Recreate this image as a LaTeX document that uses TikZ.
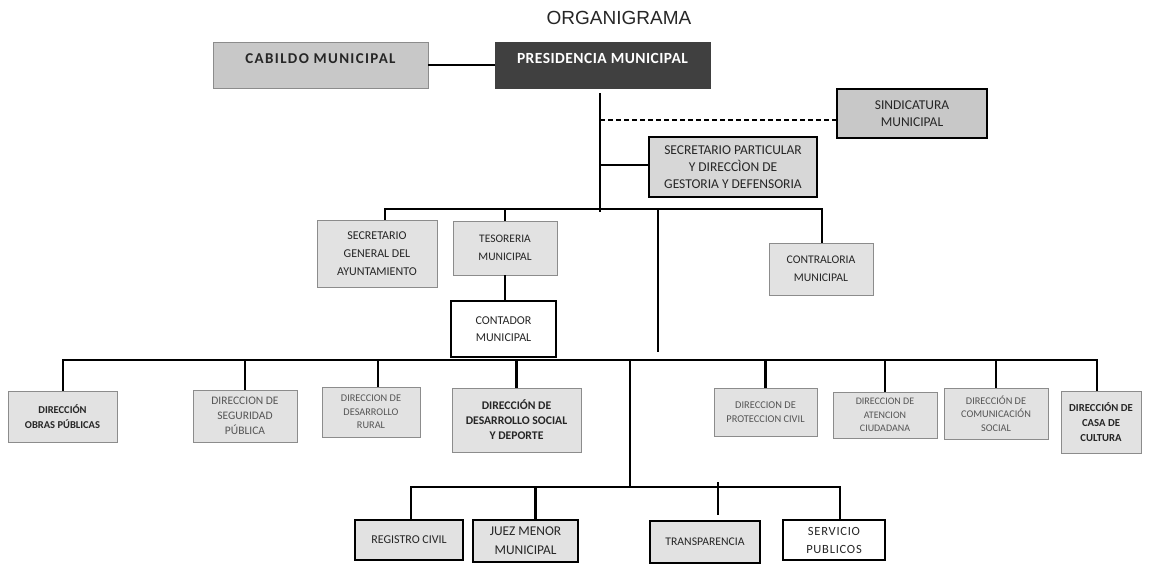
\documentclass[tikz,border=0pt]{standalone}
\usepackage{fontspec}
\setmainfont{Carlito}
\newfontfamily\titlefont{Liberation Sans}
\usetikzlibrary{positioning,calc}
\definecolor{boxgray}{HTML}{E2E2E2}
\definecolor{midgray}{HTML}{C8C8C8}
\definecolor{darkbox}{HTML}{404040}
\definecolor{edgegray}{HTML}{8C8C8C}
\definecolor{txtdark}{HTML}{262626}
\definecolor{txtgray}{HTML}{555555}

\begin{document}
\begin{tikzpicture}[x=1pt, y=-1pt,
  box/.style={draw=edgegray, fill=boxgray, line width=0.9pt, align=center, inner sep=2pt, text=txtdark},
  softbox/.style={box, text=txtgray},
  strongbox/.style={draw=black, fill=boxgray, line width=2.2pt, align=center, inner sep=2pt, text=txtdark},
  topbox/.style={align=center, inner xsep=2pt, inner ysep=3pt, text height=18pt, text depth=22pt},
  trunk/.style={line width=2.6pt},
  link/.style={line width=2pt},
  dashlink/.style={line width=2pt, dash pattern=on 5pt off 3pt}]
  \useasboundingbox (0,0) rectangle (1162,566);

  % title
  \node[font=\titlefont\fontsize{19}{22}\selectfont, text=txtdark] (title) at (619,18) {ORGANIGRAMA};

  % top level
  \node[topbox, draw=edgegray, fill=midgray, line width=0.9pt, minimum width=215pt, text=txtdark,
        font=\bfseries\fontsize{15}{16}\selectfont\addfontfeature{LetterSpace=9}] (cabildo) at (320.5,65) {CABILDO MUNICIPAL};
  \node[topbox, draw=darkbox, fill=darkbox, minimum width=215pt, text=white,
        font=\bfseries\fontsize{15.5}{16}\selectfont\addfontfeature{LetterSpace=3}] (presid) at (602.5,65) {PRESIDENCIA MUNICIPAL};
  \node[strongbox, fill=midgray, minimum width=150pt, minimum height=49pt,
        font=\fontsize{13.5}{17}\selectfont] (sindic) at (912,113.5) {SINDICATURA\\MUNICIPAL};
  \node[strongbox, fill=boxgray!95!black, minimum width=168pt, minimum height=60pt,
        font=\fontsize{13.5}{17}\selectfont] (secpart) at (733,167) {SECRETARIO PARTICULAR\\Y DIRECCÌON DE\\GESTORIA Y DEFENSORIA};

  % second level
  \node[box, minimum width=120pt, minimum height=67pt, font=\fontsize{12}{18}\selectfont] (secgen) at (377,253.5) {SECRETARIO\\GENERAL DEL\\AYUNTAMIENTO};
  \node[box, minimum width=104pt, minimum height=54pt, font=\fontsize{11.5}{18}\selectfont] (tesor) at (505,248) {TESORERIA\\MUNICIPAL};
  \node[strongbox, fill=white, minimum width=105pt, minimum height=56pt, font=\fontsize{12}{17}\selectfont] (contador) at (503.5,329) {CONTADOR\\MUNICIPAL};
  \node[box, minimum width=104pt, minimum height=52pt, font=\fontsize{11.7}{18}\selectfont] (contral) at (821,269) {CONTRALORIA\\MUNICIPAL};

  % directions
  \node[box, minimum width=109pt, minimum height=51pt, font=\bfseries\fontsize{10.5}{15}\selectfont] (obras) at (62.5,416.5) {DIRECCIÓN\\OBRAS PÚBLICAS};
  \node[softbox, minimum width=104pt, minimum height=52pt, font=\fontsize{11.5}{15}\selectfont] (segur) at (245,416) {DIRECCION DE\\SEGURIDAD\\PÚBLICA};
  \node[softbox, minimum width=98pt, minimum height=50pt, font=\fontsize{10.3}{13.5}\selectfont] (rural) at (371,412) {DIRECCION DE\\DESARROLLO\\RURAL};
  \node[box, minimum width=129pt, minimum height=64pt, font=\bfseries\fontsize{11.7}{15}\selectfont] (social) at (516.5,420) {DIRECCIÓN DE\\DESARROLLO SOCIAL\\Y DEPORTE};
  \node[softbox, minimum width=103pt, minimum height=48pt, font=\fontsize{10.4}{13.5}\selectfont] (protec) at (765.5,412) {DIRECCION DE\\PROTECCION CIVIL};
  \node[softbox, minimum width=104pt, minimum height=46pt, font=\fontsize{10}{13.5}\selectfont] (atenc) at (885,415) {DIRECCION DE\\ATENCION\\CIUDADANA};
  \node[softbox, minimum width=104pt, minimum height=51pt, font=\fontsize{10.3}{13.5}\selectfont] (comun) at (996,413.5) {DIRECCIÓN DE\\COMUNICACIÓN\\SOCIAL};
  \node[box, minimum width=80pt, minimum height=62pt, font=\bfseries\fontsize{10.7}{15}\selectfont] (cultura) at (1101,422) {DIRECCIÓN DE\\CASA DE\\CULTURA};

  % bottom level
  \node[strongbox, minimum width=108pt, minimum height=40pt, font=\fontsize{12}{15}\selectfont] (registro) at (409,540) {REGISTRO CIVIL};
  \node[strongbox, minimum width=105pt, minimum height=42pt, font=\fontsize{13.4}{19}\selectfont] (juez) at (525.5,541) {JUEZ MENOR\\MUNICIPAL};
  \node[strongbox, minimum width=110pt, minimum height=42pt, font=\fontsize{11.7}{15}\selectfont] (transp) at (705,542) {TRANSPARENCIA};
  \node[draw=black, fill=white, line width=1.2pt, align=center, text=txtdark, minimum width=102pt, minimum height=40pt,
        font=\fontsize{12.5}{18}\selectfont\addfontfeature{LetterSpace=6}] (servic) at (834,540) {SERVICIO\\PUBLICOS};

  % junction points
  \coordinate (t1) at (600,93);
  \coordinate (t2) at (600,212);
  \coordinate (d1) at (600,120);
  \coordinate (d2) at (600,165);
  \coordinate (b1l) at (385,209);
  \coordinate (b1r) at (822,209);
  \coordinate (t3) at (658,209);
  \coordinate (t4) at (658,352);
  \coordinate (b2l) at (63,360);
  \coordinate (b2r) at (1097,360);
  \coordinate (t5) at (630,360);
  \coordinate (t6) at (630,487);
  \coordinate (b3l) at (411,487);
  \coordinate (b3r) at (840,487);

  % connectors
  \draw[link] (cabildo) -- (presid);
  \draw[trunk] (t1) -- (t2);
  \draw[dashlink] (d1) -- (d1 -| sindic.west);
  \draw[link] (d2) -- (d2 -| secpart.west);
  \draw[trunk] (b1l |- secgen.north) -- (b1l) -- (b1r) -- (b1r |- contral.north);
  \draw[trunk] (tesor.north) -- (tesor.north |- b1l);
  \draw[trunk] (tesor.south) -- (tesor.south |- contador.north);
  \draw[trunk] (t3) -- (t4);
  \draw[trunk] (b2l |- obras.north) -- (b2l) -- (b2r) -- (b2r |- cultura.north);
  \foreach \n in {segur, social, protec, atenc, comun}
    \draw[trunk] (\n.north) -- (\n.north |- b2l);
  \draw[trunk] ([xshift=7pt]rural.north) -- ([xshift=7pt]rural.north |- b2l);
  \draw[trunk] (t5) -- (t6);
  \draw[trunk] (b3l |- registro.north) -- (b3l) -- (b3r) -- (b3r |- servic.north);
  \draw[trunk] ([xshift=10pt]juez.north) -- ([xshift=10pt]juez.north |- b3l);
  \draw[trunk] ([xshift=13pt,yshift=5pt]transp.north) -- ([xshift=13pt,yshift=5pt]transp.north |- b3l);
\end{tikzpicture}
\end{document}
